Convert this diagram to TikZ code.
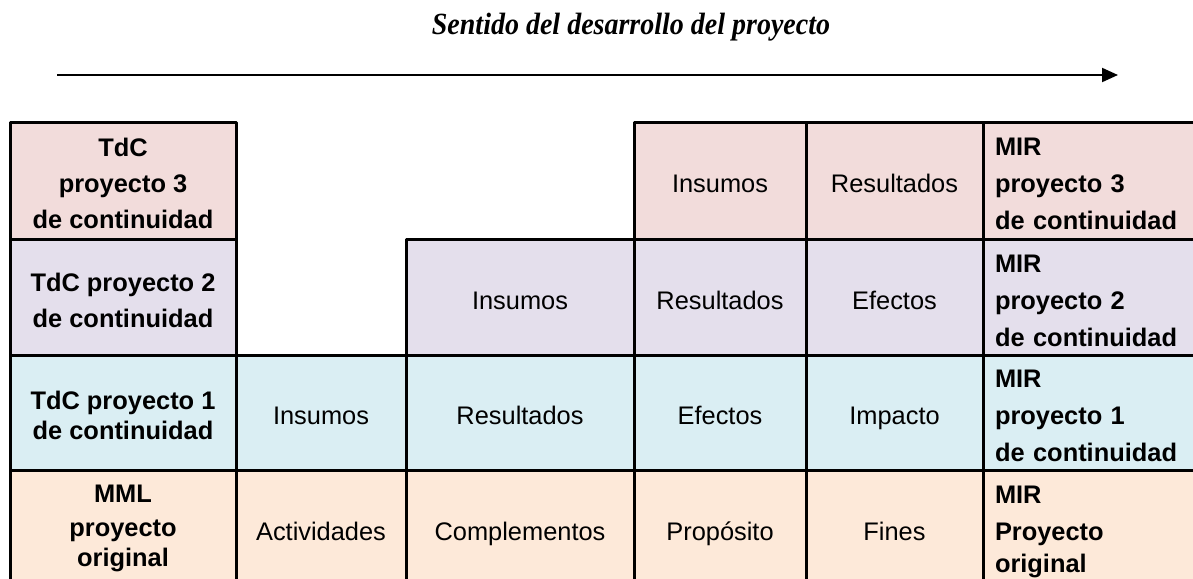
\documentclass[tikz,border=0pt]{standalone}
\usepackage{fontspec}
\setmainfont{Liberation Sans}
\newfontfamily\titlefont{Liberation Serif}
\usetikzlibrary{arrows.meta}
\definecolor{rosa}{HTML}{F2DCDB}
\definecolor{lila}{HTML}{E4DFEC}
\definecolor{celeste}{HTML}{DAEEF3}
\definecolor{durazno}{HTML}{FDE9D9}
\newcommand{\arriba}{\rule{0pt}{12.5pt}}
\begin{document}
\begin{tikzpicture}[x=0.5pt,y=-0.5pt,line join=round,>={Triangle[length=8pt,width=7pt]}]
	\tikzset{box/.style={draw,line width=1.5pt,inner sep=0pt,align=center,font=\fontsize{12.7}{18}\selectfont},
		cell/.style={box,text height=14.5pt,text depth=2.5pt},
		head/.style={box,font=\fontsize{12.7}{18}\selectfont\bfseries},
		mir/.style={box,font=\fontsize{12.7}{18.5}\selectfont\bfseries,align=left,text width=94pt,inner xsep=6pt,minimum width=106pt},
		c0/.style={minimum width=113pt},c1/.style={minimum width=85pt},c2/.style={minimum width=114pt},
		c3/.style={minimum width=86pt},c4/.style={minimum width=88.5pt},
		r3/.style={minimum height=58.5pt},r2/.style={minimum height=58pt},r1/.style={minimum height=57.5pt},r0/.style={minimum height=58pt}}
	\useasboundingbox (0,0) rectangle (1193,578);
	\clip (0,0) rectangle (1193,578);
	% titulo y flecha
	\node[font=\titlefont\fontsize{14}{16}\selectfont\bfseries\itshape] (titulo) at (631,27) {\scalebox{1}[1.1]{Sentido del desarrollo del proyecto}};
	\coordinate (ini) at (57,75);
	\coordinate (fin) at (1118,75);
	\draw[->,line width=1pt] (ini) -- (fin);
	% proyecto 3
	\node[head,c0,r3,fill=rosa] (t3) at (123,180.5) {\arriba TdC\\proyecto 3\\de continuidad};
	\node[cell,c3,r3,fill=rosa] (t3a) at (720,180.5) {Insumos};
	\node[cell,c4,r3,fill=rosa] (t3b) at (894.5,180.5) {Resultados};
	\node[mir,r3,fill=rosa] (m3) at (1089,180.5) {\arriba MIR\\proyecto 3\\de continuidad};
	% proyecto 2
	\node[head,c0,r2,fill=lila] (t2) at (123,297) {\arriba TdC proyecto 2\\de continuidad};
	\node[cell,c2,r2,fill=lila] (t2a) at (520,297) {Insumos};
	\node[cell,c3,r2,fill=lila] (t2b) at (720,297) {Resultados};
	\node[cell,c4,r2,fill=lila] (t2c) at (894.5,297) {Efectos};
	\node[mir,r2,fill=lila] (m2) at (1089,297) {\arriba MIR\\proyecto 2\\de continuidad};
	% proyecto 1
	\node[head,c0,r1,fill=celeste] (t1) at (123,412.5) {\arriba TdC proyecto 1\\[-3pt]de continuidad};
	\node[cell,c1,r1,fill=celeste] (t1a) at (321,412.5) {Insumos};
	\node[cell,c2,r1,fill=celeste] (t1b) at (520,412.5) {Resultados};
	\node[cell,c3,r1,fill=celeste] (t1c) at (720,412.5) {Efectos};
	\node[cell,c4,r1,fill=celeste] (t1d) at (894.5,412.5) {Impacto};
	\node[mir,r1,fill=celeste] (m1) at (1089,412.5) {\arriba MIR\\proyecto 1\\de continuidad};
	% proyecto original
	\node[head,c0,r0,fill=durazno] (t0) at (123,528) {MML\\[-1pt]proyecto\\[-3pt]original};
	\node[cell,c1,r0,fill=durazno] (t0a) at (321,528) {Actividades};
	\node[cell,c2,r0,fill=durazno] (t0b) at (520,528) {Complementos};
	\node[cell,c3,r0,fill=durazno] (t0c) at (720,528) {Propósito};
	\node[cell,c4,r0,fill=durazno] (t0d) at (894.5,528) {Fines};
	\node[mir,r0,fill=durazno] (m0) at (1089,528) {\arriba MIR\\Proyecto\\[-2.5pt]original};
\end{tikzpicture}
\end{document}
